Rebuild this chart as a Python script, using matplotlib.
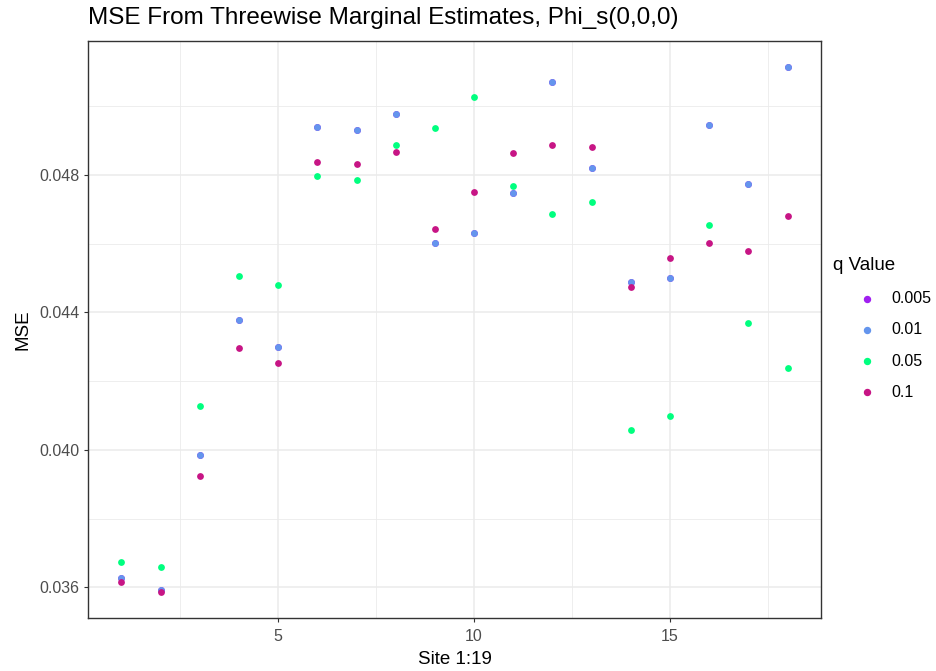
import numpy as np
import matplotlib.pyplot as plt
from matplotlib.lines import Line2D

plt.rcParams['font.family'] = ['Liberation Sans', 'DejaVu Sans']

sites = list(range(1, 19))
q_labels = ['0.005', '0.01', '0.05', '0.1']
q_colors = ['#A020F0', '#6495ED', '#00FF7F', '#C71585']

# q = 0.01
mse_01 = [0.03627, 0.03591, 0.03984, 0.04379, 0.04300, 0.04939, 0.04931, 0.04977, 0.04602,
          0.04630, 0.04748, 0.05069, 0.04820, 0.04487, 0.04499, 0.04946, 0.04772, 0.05113]
# q = 0.005 sits underneath the 0.01 points (not visible in the chart)
mse_005 = list(mse_01)
# q = 0.05
mse_05 = [0.03674, 0.03658, 0.04126, 0.04507, 0.04479, 0.04796, 0.04784, 0.04887, 0.04935,
          0.05026, 0.04768, 0.04685, 0.04721, 0.04058, 0.04098, 0.04653, 0.04368, 0.04237]
# q = 0.1
mse_1 = [0.03615, 0.03587, 0.03924, 0.04297, 0.04253, 0.04836, 0.04832, 0.04867, 0.04641,
         0.04749, 0.04863, 0.04887, 0.04880, 0.04475, 0.04558, 0.04602, 0.04578, 0.04681]

series = [mse_005, mse_01, mse_05, mse_1]

W, H = 936, 671
fig = plt.figure(figsize=(W / 100, H / 100), dpi=100)
ax = fig.add_axes([88/W, 1-618/H, (821-88)/W, (618-41)/H])

for vals, col in zip(series, q_colors):
    ax.scatter(sites, vals, s=24, color=col, linewidths=0, zorder=3)

allv = np.concatenate([np.array(s) for s in series])
lo, hi = allv.min(), allv.max()
pad = (hi - lo) * 0.05
ax.set_ylim(lo - pad, hi + pad)
ax.set_xlim(1 - 0.85, 18 + 0.85)

ax.set_xticks([5, 10, 15])
ax.set_xticks([2.5, 7.5, 12.5, 17.5], minor=True)
ax.set_yticks([0.036, 0.040, 0.044, 0.048])
ax.set_yticklabels(['0.036', '0.040', '0.044', '0.048'])
ax.set_yticks([0.038, 0.042, 0.046, 0.050], minor=True)

ax.grid(which='major', color='#EBEBEB', lw=1.1, zorder=0)
ax.grid(which='minor', color='#EBEBEB', lw=0.6, zorder=0)
ax.tick_params(which='major', length=3, width=0.8, color='#333333',
               labelsize=11.5, labelcolor='#4D4D4D', pad=3)
ax.tick_params(axis='x', which='major', pad=5)
ax.tick_params(which='minor', length=0)
for sp in ax.spines.values():
    sp.set_color('#333333')
    sp.set_linewidth(1.0)

ax.set_xlabel('Site 1:19', fontsize=13.5, labelpad=5)
ax.set_ylabel('MSE', fontsize=13.5, labelpad=6)
fig.text(88/W, 1-18/H, 'MSE From Threewise Marginal Estimates, Phi_s(0,0,0)',
         fontsize=17.5, ha='left', va='center')

# legend
fig.text(833/W, 1-265/H, 'q Value', fontsize=13.5, ha='left', va='center')
for i, (lab, col) in enumerate(zip(q_labels, q_colors)):
    yy = 1 - (298.5 + i * 31.3) / H
    fig.add_artist(Line2D([866.5/W], [yy], marker='o', ls='', color=col,
                          markersize=4.3, transform=fig.transFigure))
    fig.text(891/W, yy, lab, fontsize=11.5, ha='left', va='center')

fig.savefig('out.png', dpi=100)
